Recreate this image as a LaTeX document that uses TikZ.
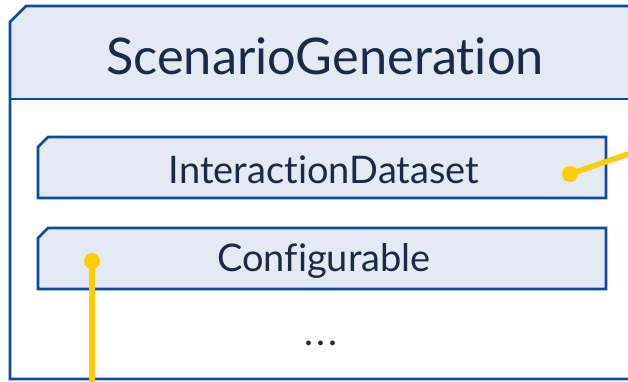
\documentclass[tikz,border=0pt]{standalone}
\usepackage{fontspec}
\setmainfont{Lato}[Ligatures={NoCommon}]
\definecolor{boxfill}{HTML}{E4EAF4}
\definecolor{boxline}{HTML}{0B4C9E}
\definecolor{txt}{HTML}{1B2A47}
\definecolor{connyel}{HTML}{FFCC00}
\tikzset{
  cutbox/.style={draw=boxline, line width=2.8pt, fill=boxfill},
  conn/.style={draw=connyel, line width=5.5pt},
  dotend/.style={circle, fill=connyel, inner sep=0pt, minimum size=16pt},
  lbl/.style={text=txt, inner sep=0pt}
}
\begin{document}
\begin{tikzpicture}[x=1pt,y=-1pt]
\useasboundingbox (0,0) rectangle (628,381);
\clip (0,0) rectangle (628,381);
% outer box
\fill[white] (10,22) -- (26,6) -- (640,6) -- (640,379) -- (10,379) -- cycle;
\fill[boxfill] (10,22) -- (26,6) -- (640,6) -- (640,99) -- (10,99) -- cycle;
\draw[boxline, line width=2.8pt, line join=miter] (640,6) -- (26,6) -- (10,22) -- (10,379) -- (640,379);
\draw[boxline, line width=2.8pt] (10,99) -- (640,99);
\node[lbl, font=\fontsize{50.5}{58}\selectfont] (title) at (325,56) {ScenarioGeneration};
% inner boxes
\path[cutbox] (38,147) -- (48,137) -- (606,137) -- (606,198) -- (38,198) -- cycle;
\node[lbl, font=\fontsize{38}{44}\selectfont] (ids) at (324,170) {InteractionDataset};
\path[cutbox] (38,238) -- (48,228) -- (606,228) -- (606,289) -- (38,289) -- cycle;
\node[lbl, font=\fontsize{38}{44}\selectfont] (cfg) at (324,261) {Configurable};
\node[lbl, font=\fontsize{38}{44}\selectfont, anchor=base] (dots) at (321,345) {.\hspace{3pt}.\hspace{3pt}.};
% connectors
\node[dotend] (d1) at (570,174) {};
\coordinate (e1) at (646,148);
\draw[conn] (d1.center) -- (e1);
\node[dotend] (d2) at (92,261) {};
\coordinate (e2) at (92,390);
\draw[conn] (d2.center) -- (e2);
\end{tikzpicture}
\end{document}
